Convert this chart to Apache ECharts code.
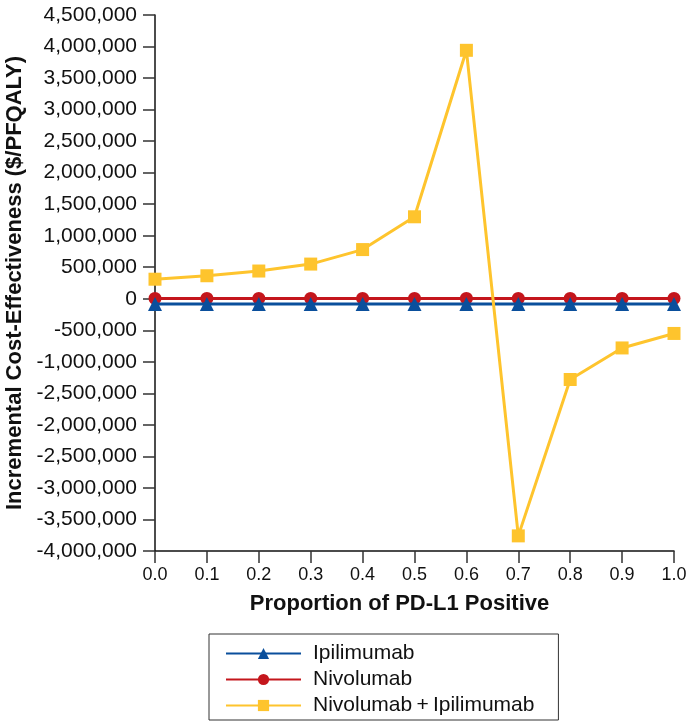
<!DOCTYPE html>
<html>
<head>
<meta charset="utf-8">
<script src="https://cdn.jsdelivr.net/npm/echarts@6/dist/echarts.min.js"></script>
<style>
html,body{margin:0;padding:0;background:#fff;}
#chart{width:700px;height:723px;}
</style>
</head>
<body>
<div id="chart"></div>
<script>
// ---- data ----
const proportions = [0.0, 0.1, 0.2, 0.3, 0.4, 0.5, 0.6, 0.7, 0.8, 0.9, 1.0];
const ipilimumab = [-82000, -82000, -82000, -82000, -82000, -82000, -82000, -82000, -82000, -82000, -82000];
const nivolumab = [5000, 5000, 5000, 5000, 5000, 5000, 5000, 5000, 5000, 5000, 5000];
const nivoIpi = [310000, 365000, 440000, 550000, 780000, 1300000, 3940000, -3760000, -1280000, -780000, -550000];
const yTickLabels = ['-4,000,000','-3,500,000','-3,000,000','-2,500,000','-2,000,000','-2,500,000','-1,000,000','-500,000','0',
  '500,000','1,000,000','1,500,000','2,000,000','2,500,000','3,000,000','3,500,000','4,000,000','4,500,000'];
const xTickLabels = ['0.0','0.1','0.2','0.3','0.4','0.5','0.6','0.7','0.8','0.9','1.0'];
const seriesNames = ['Ipilimumab', 'Nivolumab', 'Nivolumab\u2009+\u2009Ipilimumab'];

const Y_MIN = -4000000, Y_MAX = 4500000, Y_STEP = 500000;

const pairs = arr => proportions.map((p, i) => [p, arr[i]]);

const chart = echarts.init(document.getElementById('chart'), null, {renderer: 'canvas'});
const baseFont = 'Liberation Sans, Arial, Helvetica, sans-serif';

chart.setOption({
  animation: false,
  backgroundColor: '#fff',
  grid: {left: 155, right: 26, top: 15, bottom: 172, containLabel: false, outerBoundsMode: 'none'},
  xAxis: {
    type: 'value', min: 0, max: 1, interval: 0.1,
    name: 'Proportion of PD-L1 Positive', nameLocation: 'middle', nameGap: 42,
    nameTextStyle: {fontFamily: baseFont, fontWeight: 'bold', fontSize: 22, color: '#111', padding: [0, 30, 0, 0]},
    axisLine: {show: true, onZero: false, lineStyle: {color: '#111', width: 1.5}},
    axisTick: {show: true, inside: false, length: 12, lineStyle: {color: '#333', width: 1.5}},
    axisLabel: {
      margin: 15, fontSize: 18, color: '#111', fontFamily: baseFont,
      formatter: v => xTickLabels[Math.round(v * 10)]
    },
    splitLine: {show: false}
  },
  yAxis: {
    type: 'value', min: Y_MIN, max: Y_MAX, interval: Y_STEP,
    name: 'Incremental Cost-Effectiveness ($/PFQALY)', nameLocation: 'middle', nameGap: 108,
    nameRotate: 90,
    nameTextStyle: {fontFamily: baseFont, fontWeight: 'bold', fontSize: 22, color: '#111'},
    axisLine: {show: true, onZero: false, lineStyle: {color: '#111', width: 1.5}},
    axisTick: {show: true, inside: false, length: 12, lineStyle: {color: '#333', width: 1.5}},
    axisLabel: {
      margin: 18, fontSize: 21, color: '#111', fontFamily: baseFont,
      formatter: v => yTickLabels[Math.round((v - Y_MIN) / Y_STEP)]
    },
    splitLine: {show: false}
  },
  legend: {
    orient: 'vertical', left: 209, top: 634,
    padding: [9, 24, 4, 16],
    borderColor: '#333', borderWidth: 1,
    itemWidth: 75, itemHeight: 14, itemGap: 5,
    textStyle: {fontFamily: baseFont, fontSize: 21, color: '#111', lineHeight: 21, padding: [0, 0, 0, 7]},
    data: seriesNames
  },
  series: [
    {
      name: seriesNames[0], type: 'line', data: pairs(ipilimumab),
      symbol: 'triangle', symbolSize: 14, z: 3,
      itemStyle: {color: '#0a4f9c'}, lineStyle: {color: '#0a4f9c', width: 3}
    },
    {
      name: seriesNames[1], type: 'line', data: pairs(nivolumab),
      symbol: 'circle', symbolSize: 13, z: 2,
      itemStyle: {color: '#c4161c'}, lineStyle: {color: '#c4161c', width: 3}
    },
    {
      name: seriesNames[2], type: 'line', data: pairs(nivoIpi),
      symbol: 'rect', symbolSize: 13, z: 4,
      itemStyle: {color: '#fec42d'}, lineStyle: {color: '#fec42d', width: 3}
    }
  ]
});
</script>
</body>
</html>
